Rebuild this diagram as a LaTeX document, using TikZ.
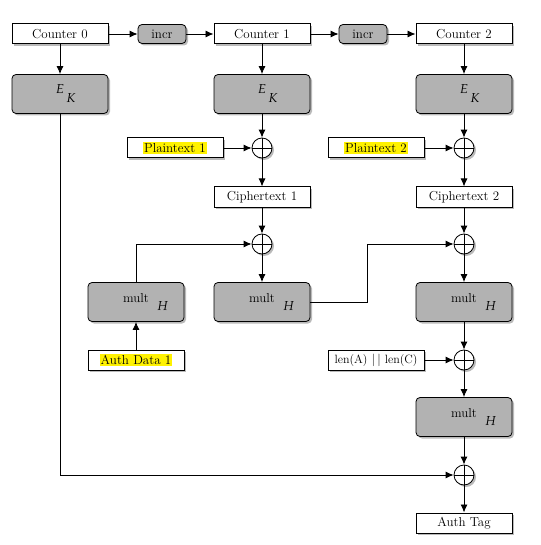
\documentclass[tikz,border=0pt]{standalone}
\usepackage{mathpazo}
\usetikzlibrary{arrows.meta,shadows}
\tikzset{
  shade box/.style={drop shadow={shadow xshift=2pt,shadow yshift=-2pt,fill=black!45,opacity=0.6}},
  datbox/.style={draw,fill=white,line width=1pt,minimum width=96pt,minimum height=20pt,inner sep=0pt,shade box},
  opbox/.style={draw,fill=gray!60,line width=0.8pt,rounded corners=4pt,minimum width=96pt,minimum height=39pt,inner sep=0pt,shade box},
  incrbox/.style={draw,fill=gray!60,line width=0.8pt,rounded corners=4pt,minimum width=48pt,minimum height=19pt,inner sep=0pt,shade box},
  xorop/.style={draw,circle,fill=white,line width=0.8pt,minimum size=20pt,inner sep=0pt,shade box,
    path picture={\draw[line width=0.8pt] (path picture bounding box.north)--(path picture bounding box.south)
      (path picture bounding box.west)--(path picture bounding box.east);}},
  flow/.style={-{Latex[length=8pt,width=7pt]},line width=0.9pt}
}
\newcommand{\hl}[1]{{\setlength{\fboxsep}{1pt}\colorbox{yellow}{#1}}}
\newcommand{\ek}{\raisebox{0.5ex}{$E$}\rlap{\raisebox{-1.1ex}{$\,K$}}}
\newcommand{\multh}{mult\rlap{\hspace{8pt}\raisebox{-1.4ex}{$H$}}}
\begin{document}
\begin{tikzpicture}[x=1pt,y=-1pt,font=\fontsize{13}{15}\selectfont]
\useasboundingbox (0,0) rectangle (540,545);
\node[datbox] (c0) at (60,34) {Counter 0};
\node[incrbox] (inc1) at (162,34) {incr};
\node[datbox] (c1) at (262,34) {Counter 1};
\node[incrbox] (inc2) at (363,34) {incr};
\node[datbox] (c2) at (464,34) {Counter 2};
\foreach \n/\x in {0/60,1/262,2/464}{\node[opbox] (ek\n) at (\x,94) {\ek};}
\node[xorop] (x1) at (262,148) {};
\node[xorop] (x2) at (464,148) {};
\node[datbox] (pt1) at (175,148) {\hl{Plaintext 1}};
\node[datbox] (pt2) at (376,148) {\hl{Plaintext 2}};
\node[datbox] (ct1) at (262,197) {Ciphertext 1};
\node[datbox] (ct2) at (464,197) {Ciphertext 2};
\node[xorop] (x3) at (262,244) {};
\node[xorop] (x4) at (464,244) {};
\node[opbox] (m1) at (136,302) {\multh};
\node[opbox] (m2) at (262,302) {\multh};
\node[opbox] (m3) at (464,302) {\multh};
\node[datbox] (ad) at (136,360) {\hl{Auth Data 1}};
\node[datbox,font=\fontsize{12}{14}\selectfont] (len) at (376,360) {len(A) $|\,|$ len(C)};
\node[xorop] (x5) at (464,360) {};
\node[opbox] (m4) at (464,417) {\multh};
\node[xorop] (x6) at (464,475) {};
\node[datbox] (tag) at (464,523) {Auth Tag};
\coordinate (jog) at (367,302);
\draw[flow] (c0)--(inc1);
\draw[flow] (inc1)--(c1);
\draw[flow] (c1)--(inc2);
\draw[flow] (inc2)--(c2);
\foreach \n in {0,1,2}{\draw[flow] (c\n)--(ek\n);}
\draw[flow] (ek1)--(x1);
\draw[flow] (ek2)--(x2);
\draw[flow] (pt1)--(x1);
\draw[flow] (pt2)--(x2);
\draw[flow] (x1)--(ct1);
\draw[flow] (x2)--(ct2);
\draw[flow] (ct1)--(x3);
\draw[flow] (ct2)--(x4);
\draw[flow] (m1.north) |- (x3);
\draw[flow] (ad)--(m1);
\draw[flow] (x3)--(m2);
\draw[flow] (m2.east)--(jog) |- (x4);
\draw[flow] (x4)--(m3);
\draw[flow] (m3)--(x5);
\draw[flow] (len)--(x5);
\draw[flow] (x5)--(m4);
\draw[flow] (m4)--(x6);
\draw[flow] (ek0.south) |- (x6);
\draw[flow] (x6)--(tag);
\end{tikzpicture}
\end{document}
